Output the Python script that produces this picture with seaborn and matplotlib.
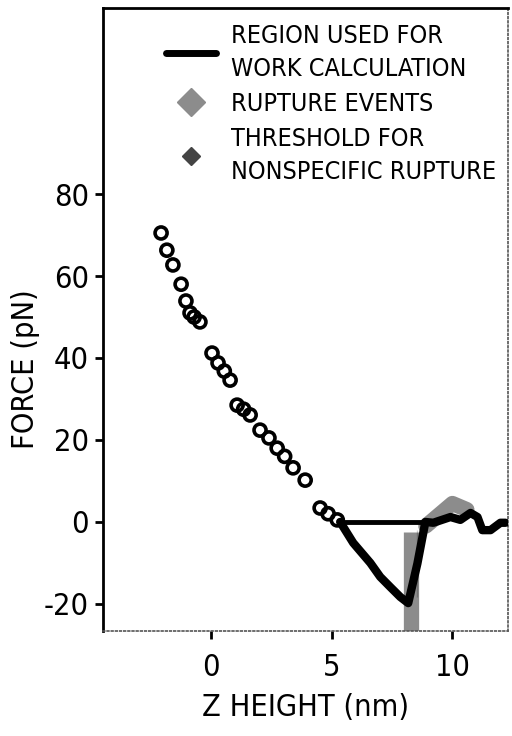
import matplotlib
matplotlib.use("Agg")
import matplotlib.pyplot as plt
from matplotlib.lines import Line2D
import numpy as np
import pandas as pd
import seaborn as sns

# Approach trace (open circles)
approach_z = [-2.07, -1.83, -1.58, -1.24, -1.04, -0.87, -0.70, -0.46, 0.04, 0.29,
              0.55, 0.79, 1.08, 1.35, 1.62, 2.03, 2.40, 2.74, 3.05, 3.40,
              3.90, 4.52, 4.85, 5.23]
approach_f = [70.5, 66.3, 62.7, 58.0, 53.9, 51.0, 50.0, 48.8, 41.2, 38.8,
              36.8, 34.6, 28.5, 27.5, 26.1, 22.4, 20.5, 18.0, 16.0, 13.2,
              10.2, 3.4, 2.0, 0.5]

# Retraction trace used for the work integral
retract_z = [5.35, 5.89, 6.60, 7.01, 7.43, 7.84, 8.17, 8.55, 8.55, 8.88,
             9.21, 9.92, 10.33, 10.75, 11.04, 11.24, 11.58, 11.99, 12.2]
retract_f = [0.0, -5.1, -10.0, -13.4, -15.9, -18.3, -19.8, -18.3, -2.0, 0.0,
             -0.2, 1.2, 0.5, 2.2, 1.2, -2.0, -2.0, -0.2, -0.2]

# Zero-force baseline closing the work region
baseline_z = [5.35, 8.88]
baseline_f = [0.0, 0.0]

# Rupture events (two segments)
rupture1_z = [8.28, 8.28]
rupture1_f = [-27.0, -2.4]
rupture2_z = [8.9, 9.5, 10.0, 10.6]
rupture2_f = [-1.0, 2.0, 4.5, 3.0]

x_ticks = [0, 5, 10]
y_ticks = [-20, 0, 20, 40, 60, 80]

sns.set_theme(style="white")
plt.rcParams["font.family"] = ["DejaVu Sans"]
plt.rcParams["font.stretch"] = "condensed"
plt.rcParams["text.color"] = "black"

fig = plt.figure(figsize=(5.12, 7.36), dpi=100)
ax = fig.add_axes([0.201, 0.1427, 0.791, 0.8465])

gray = "#8c8c8c"
ax.plot(rupture1_z, rupture1_f, color=gray, lw=11, solid_capstyle="butt", zorder=1)
ax.plot(rupture2_z, rupture2_f, color=gray, lw=11, solid_capstyle="round", zorder=1)

sns.lineplot(x=baseline_z, y=baseline_f, ax=ax, color="black", lw=3.5,
             sort=False, zorder=3)
sns.lineplot(x=retract_z, y=retract_f, ax=ax, color="black", lw=6,
             sort=False, zorder=3)
sns.scatterplot(x=approach_z, y=approach_f, ax=ax, marker="o", s=75,
                facecolor="none", edgecolor="black", linewidth=2.6, zorder=4)

ax.set_xlim(-4.48, 12.3)
ax.set_ylim(-26.6, 125.4)
ax.set_xticks(x_ticks)
ax.set_yticks(y_ticks)
ax.set_xticklabels([str(v) for v in x_ticks])
ax.set_yticklabels([str(v) for v in y_ticks])
ax.tick_params(axis="both", which="major", direction="out", length=6,
               width=2, color="black", labelsize=22, labelcolor="black")
ax.tick_params(axis="x", pad=10)
ax.tick_params(axis="y", pad=4)
ax.xaxis.set_ticks_position("bottom")
ax.yaxis.set_ticks_position("left")

for side in ("left", "top"):
    ax.spines[side].set_color("black")
    ax.spines[side].set_linewidth(2)
for side in ("right", "bottom"):
    ax.spines[side].set_color("#555555")
    ax.spines[side].set_linewidth(1.2)
    ax.spines[side].set_linestyle((0, (1, 1.5)))

ax.set_xlabel("Z HEIGHT (nm)", fontsize=22, color="black", labelpad=8)
ax.set_ylabel("FORCE (pN)", fontsize=22, color="black")
ax.yaxis.set_label_coords(-0.155, 0.42)

handles = [
    Line2D([0], [0], color="black", lw=5),
    Line2D([0], [0], color=gray, lw=0, marker="D", markersize=14),
    Line2D([0], [0], color="#444444", lw=0, marker="D", markersize=9),
]
labels = ["REGION USED FOR\nWORK CALCULATION", "RUPTURE EVENTS",
          "THRESHOLD FOR\nNONSPECIFIC RUPTURE"]
leg = ax.legend(handles, labels, loc="upper left", bbox_to_anchor=(0.13, 0.99),
                frameon=False, fontsize=18, handlelength=2.0, handletextpad=0.6,
                labelspacing=0.45, borderaxespad=0)
for t in leg.get_texts():
    t.set_linespacing(1.45)
    t.set_color("black")

fig.savefig("out.png", dpi=100)
